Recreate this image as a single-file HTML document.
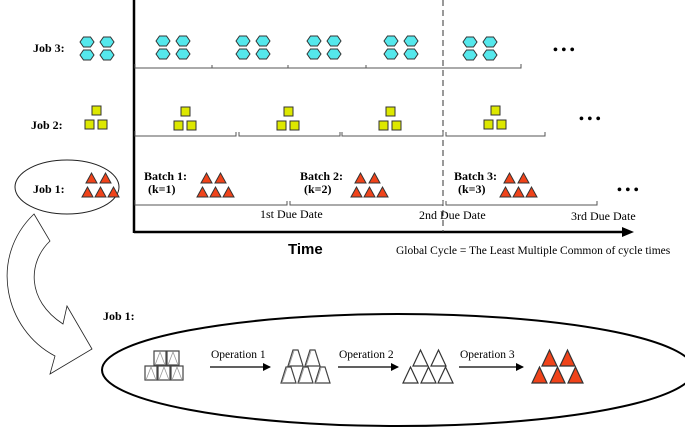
<!DOCTYPE html>
<html><head><meta charset="utf-8"><style>
html,body{margin:0;padding:0;background:#fff;}
svg{display:block;font-family:"Liberation Serif",serif;}
</style></head><body>
<svg width="685" height="427" viewBox="0 0 685 427" xmlns="http://www.w3.org/2000/svg">
<defs>
 <g id="hex"><polygon points="-7,0 -3.5,-5 3.5,-5 7,0 3.5,5 -3.5,5" fill="#55e8ec" stroke="#333" stroke-width="1"/></g>
 <g id="hex4"><use href="#hex" x="0" y="0"/><use href="#hex" x="20" y="0"/><use href="#hex" x="0" y="13"/><use href="#hex" x="20" y="13"/></g>
 <g id="sq"><rect x="0" y="0" width="9" height="9" fill="#dde800" stroke="#333" stroke-width="1"/></g>
 <g id="sq3"><use href="#sq" x="7" y="0"/><use href="#sq" x="0" y="14"/><use href="#sq" x="13" y="14"/></g>
 <g id="tr"><polygon points="0,10 5.5,0 11,10" fill="#f0431a" stroke="#333" stroke-width="1"/></g>
 <g id="tr5"><use href="#tr" x="4" y="0"/><use href="#tr" x="18" y="0"/><use href="#tr" x="0" y="14"/><use href="#tr" x="13" y="14"/><use href="#tr" x="26" y="14"/></g>
 <g id="bt"><polygon points="0,16 7.5,0 15,16" fill="#f0431a" stroke="#333" stroke-width="1.2"/></g>
 <g id="wt"><polygon points="0,16 7.5,0 15,16" fill="#fff" stroke="#333" stroke-width="1.2"/></g>
 <g id="bx"><rect x="0" y="0" width="12" height="14" fill="#fff" stroke="#444" stroke-width="1.2"/><polyline points="1,14 6,1 11,14" fill="none" stroke="#999" stroke-width="0.8"/></g>
 <g id="tz"><polygon points="0,16 5,0 10,0 15,16" fill="#fff" stroke="#444" stroke-width="1.2"/><polyline points="1,16 6,1" fill="none" stroke="#999" stroke-width="0.8"/></g>
 <marker id="ah" markerWidth="8" markerHeight="8" refX="7" refY="4" orient="auto" markerUnits="userSpaceOnUse"><polygon points="0,0 8,4 0,8" fill="#000"/></marker>
</defs>

<!-- axes -->
<line x1="134" y1="0" x2="134" y2="233" stroke="#000" stroke-width="2.5"/>
<line x1="134" y1="232" x2="626" y2="232" stroke="#000" stroke-width="2.5"/>
<polygon points="634,232 622,227 622,237" fill="#000"/>
<line x1="443" y1="0" x2="443" y2="232" stroke="#333" stroke-width="1" stroke-dasharray="6,4"/>

<!-- Job 3 -->
<text x="33" y="52" font-size="12" font-weight="bold">Job 3:</text>
<use href="#hex4" x="87" y="42"/>
<use href="#hex4" x="163" y="41"/>
<use href="#hex4" x="243" y="41"/>
<use href="#hex4" x="314" y="41"/>
<use href="#hex4" x="391" y="41"/>
<use href="#hex4" x="470" y="42"/>
<g stroke="#555" stroke-width="1" fill="none">
<polyline points="135,64 135,68 212,68 212,65 212,68 288,68 288,65 288,68 366,68 366,65 366,68 443,68 521,68 521,64"/>
</g>
<text x="553" y="54" font-size="14" font-weight="bold">• • •</text>

<!-- Job 2 -->
<text x="31" y="129" font-size="12" font-weight="bold">Job 2:</text>
<use href="#sq3" x="85" y="106"/>
<use href="#sq3" x="174" y="107"/>
<use href="#sq3" x="277" y="107"/>
<use href="#sq3" x="379" y="107"/>
<use href="#sq3" x="484" y="106"/>
<g stroke="#555" stroke-width="1" fill="none">
<polyline points="135,131 135,136 236,136 236,132"/>
<polyline points="239,132 239,136 340,136 340,132"/>
<polyline points="342,132 342,136 443,136 443,132"/>
<polyline points="446,132 446,136 545,136 545,132"/>
</g>
<text x="579" y="123" font-size="14" font-weight="bold">• • •</text>

<!-- Job 1 -->
<ellipse cx="67" cy="187" rx="52" ry="27" fill="none" stroke="#222" stroke-width="1"/>
<text x="33" y="193" font-size="12" font-weight="bold">Job 1:</text>
<use href="#tr5" x="82" y="173"/>
<text x="144" y="180" font-size="12" font-weight="bold">Batch 1:</text>
<text x="148" y="193" font-size="12" font-weight="bold">(k=1)</text>
<use href="#tr5" x="197" y="173"/>
<text x="300" y="180" font-size="12" font-weight="bold">Batch 2:</text>
<text x="304" y="193" font-size="12" font-weight="bold">(k=2)</text>
<use href="#tr5" x="351" y="173"/>
<text x="454" y="180" font-size="12" font-weight="bold">Batch 3:</text>
<text x="458" y="193" font-size="12" font-weight="bold">(k=3)</text>
<use href="#tr5" x="500" y="173"/>
<g stroke="#555" stroke-width="1" fill="none">
<polyline points="135,200 135,205 287,205 287,201"/>
<polyline points="290,201 290,205 443,205 443,201"/>
<polyline points="446,201 446,205 597,205 597,201"/>
</g>
<text x="617" y="194" font-size="14" font-weight="bold">• • •</text>
<text x="260" y="218" font-size="12">1st Due Date</text>
<text x="419" y="219" font-size="12">2nd Due Date</text>
<text x="571" y="220" font-size="12">3rd Due Date</text>
<text x="288" y="254" font-size="15" font-weight="bold" font-family="Liberation Sans, sans-serif">Time</text>
<text x="396" y="254" font-size="11.5">Global Cycle = The Least Multiple Common of cycle times</text>

<!-- curved arrow -->
<path d="M34,214 L50,241 C28,262 26,300 63,324 L67,306 L92,349 L50,374 L55,356 C5,330 -12,258 34,214 Z" fill="#fff" stroke="#222" stroke-width="0.8"/>

<!-- bottom -->
<text x="103" y="320" font-size="12" font-weight="bold">Job 1:</text>
<ellipse cx="398" cy="370" rx="296" ry="56" fill="none" stroke="#000" stroke-width="2"/>
<use href="#bx" x="154" y="351"/><use href="#bx" x="167" y="351"/>
<use href="#bx" x="145" y="366"/><use href="#bx" x="158" y="366"/><use href="#bx" x="171" y="366"/>
<text x="211" y="358" font-size="11.5">Operation 1</text>
<line x1="210" y1="367" x2="270" y2="367" stroke="#000" stroke-width="1.2" marker-end="url(#ah)"/>
<use href="#tz" x="288" y="350"/><use href="#tz" x="305" y="350"/>
<use href="#tz" x="281" y="367"/><use href="#tz" x="298" y="367"/><use href="#tz" x="315" y="367"/>
<text x="339" y="358" font-size="11.5">Operation 2</text>
<line x1="338" y1="367" x2="398" y2="367" stroke="#000" stroke-width="1.2" marker-end="url(#ah)"/>
<use href="#wt" x="413" y="350"/><use href="#wt" x="431" y="350"/>
<use href="#wt" x="403" y="367"/><use href="#wt" x="421" y="367"/><use href="#wt" x="438" y="367"/>
<text x="460" y="358" font-size="11.5">Operation 3</text>
<line x1="459" y1="367" x2="523" y2="367" stroke="#000" stroke-width="1.2" marker-end="url(#ah)"/>
<use href="#bt" x="542" y="350"/><use href="#bt" x="560" y="350"/>
<use href="#bt" x="532" y="367"/><use href="#bt" x="550" y="367"/><use href="#bt" x="568" y="367"/>
</svg>
</body></html>
